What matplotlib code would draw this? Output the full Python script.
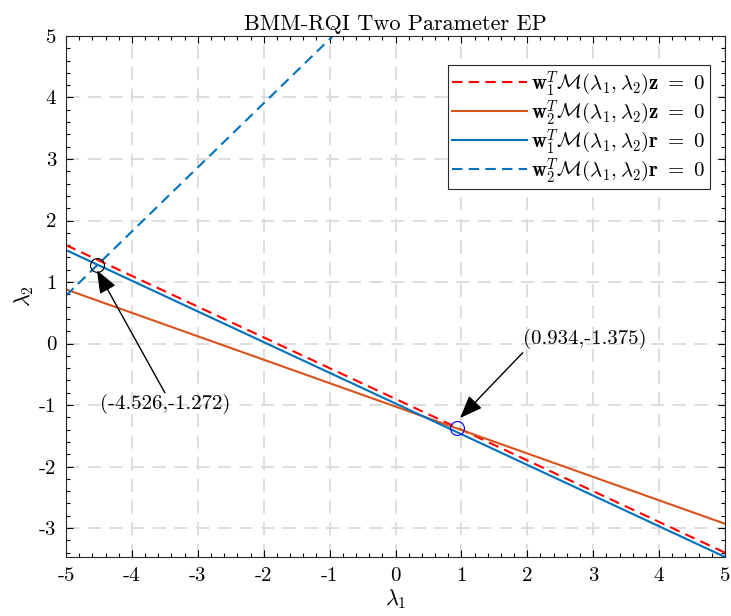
import numpy as np
import matplotlib
matplotlib.use("Agg")
import matplotlib.pyplot as plt
from matplotlib.ticker import MultipleLocator, FuncFormatter

plt.rcParams['font.family'] = 'cmr10'
plt.rcParams['mathtext.fontset'] = 'cm'
plt.rcParams['axes.unicode_minus'] = False
plt.rcParams['axes.formatter.use_mathtext'] = False

# line end points (lambda1, lambda2)
x_ends = [-5, 5]
red_z = [1.60, -3.40]
orange_z = [0.88, -2.93]
blue_r = [1.52, -3.47]
bluedash_x = [-5, -0.95]
bluedash_y = [0.78, 5.0]

# EP points
ep1 = (-4.526, 1.272)
ep2 = (0.934, -1.375)
ep1_label = "(-4.526,-1.272)"
ep2_label = "(0.934,-1.375)"

blue = '#0072BD'
orange = '#D95319'

fig = plt.figure(figsize=(7.31, 6.16), dpi=100)
ax = fig.add_axes([0.0903, 0.0958, 0.9015, 0.8458])

ax.plot(x_ends, red_z, '--', color='r', lw=1.5, dashes=(5, 3),
        label=r'$\mathbf{w}_1^T\mathcal{M}(\lambda_1,\lambda_2)\mathbf{z}\ =\ 0$')
ax.plot(x_ends, orange_z, '-', color=orange, lw=1.5,
        label=r'$\mathbf{w}_2^T\mathcal{M}(\lambda_1,\lambda_2)\mathbf{z}\ =\ 0$')
ax.plot(x_ends, blue_r, '-', color=blue, lw=1.5,
        label=r'$\mathbf{w}_1^T\mathcal{M}(\lambda_1,\lambda_2)\mathbf{r}\ =\ 0$')
ax.plot(bluedash_x, bluedash_y, '--', color=blue, lw=1.5, dashes=(5, 3),
        label=r'$\mathbf{w}_2^T\mathcal{M}(\lambda_1,\lambda_2)\mathbf{r}\ =\ 0$')

ax.plot(*ep1, 'o', mfc='none', mec='k', ms=10, mew=0.8)
ax.plot(*ep2, 'o', mfc='none', mec='b', ms=10, mew=0.8)

arrow = dict(arrowstyle='-|>,head_length=1.4,head_width=0.55', color='k', lw=1,
             shrinkA=0, shrinkB=0)
ax.annotate('', xy=(-4.53, 1.19), xytext=(-3.50, -0.80), arrowprops=arrow)
ax.text(-3.50, -0.98, ep1_label, ha='center', va='center', fontsize=15)
ax.annotate('', xy=(0.98, -1.21), xytext=(1.93, -0.15), arrowprops=arrow)
ax.text(1.93, 0.08, ep2_label, ha='left', va='center', fontsize=15)

ax.set_xlim(-5, 5)
ax.set_ylim(-3.47, 5)
ax.xaxis.set_major_locator(MultipleLocator(1))
ax.yaxis.set_major_locator(MultipleLocator(1))
ax.xaxis.set_minor_locator(MultipleLocator(0.2))
ax.yaxis.set_minor_locator(MultipleLocator(0.2))
fmt = FuncFormatter(lambda v, p: '%d' % round(v))
ax.xaxis.set_major_formatter(fmt)
ax.yaxis.set_major_formatter(fmt)
ax.tick_params(which='both', direction='in', top=True, right=True, labelsize=15, width=0.8)
ax.tick_params(which='major', length=5, pad=7)
ax.tick_params(which='minor', length=3)
ax.grid(True, which='major', ls=(0, (8, 5)), color='#d8d8d8', lw=1.2)
for s in ax.spines.values():
    s.set_color('#262626')
    s.set_linewidth(0.8)

ax.set_title('BMM-RQI Two Parameter EP', fontsize=16, pad=4)
ax.set_xlabel(r'$\lambda_1$', fontsize=16, labelpad=2)
ax.set_ylabel(r'$\lambda_2$', fontsize=16, labelpad=2)

leg = ax.legend(loc='upper right', bbox_to_anchor=(0.977, 0.944), fontsize=15,
                fancybox=False, framealpha=1, edgecolor='#262626', borderaxespad=0,
                handlelength=3.6, labelspacing=0.0, borderpad=0.2, handletextpad=0.2)
leg.get_frame().set_linewidth(0.8)

fig.savefig('out.png', dpi=100)
